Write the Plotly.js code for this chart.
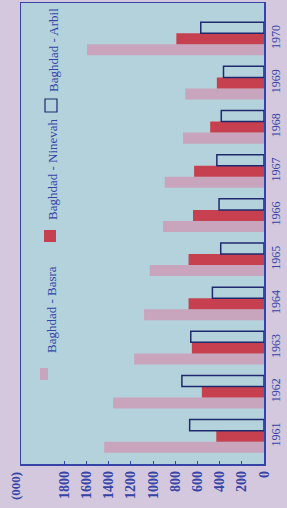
<!DOCTYPE html>
<html>
<head>
<meta charset="utf-8">
<script src="https://cdn.plot.ly/plotly-3.0.1.min.js"></script>
<style>html,body{margin:0;padding:0;background:#d3c8de;}#chart{width:287px;height:508px;}</style>
</head>
<body>
<div id="chart"></div>
<script>
// Data (thousands of passengers)
const years = ["1961","1962","1963","1964","1965","1966","1967","1968","1969","1970"];
const basra   = [1440, 1360, 1170, 1080, 1030, 910, 895, 730, 710, 1595];
const ninevah = [430, 560, 650, 680, 680, 640, 630, 485, 425, 790];
const arbil   = [670, 740, 660, 465, 390, 405, 425, 385, 365, 570];
const tickValues = [0, 200, 400, 600, 800, 1000, 1200, 1400, 1600, 1800];
const tickLabels = ["0", "200", "400", "600", "800", "1000", "1200", "1400", "1600", "1800"];
const seriesNames = ["Baghdad - Basra", "Baghdad - Ninevah", "Baghdad - Arbil"];
const unitLabel = "(000)";

const W = 287, H = 508;
const L = 21, R = 264, T = 3, B = 464;
const px = x => (x - L) / (R - L);
const py = y => (B - y) / (B - T);

const blue = "#3544a6";
const navy = "#1f2a6e";
const plotBg = "#b4d2dc";
const pink = "#c8a4bd";
const red = "#c7404f";

const traces = [
  {type: "bar", orientation: "h", y: years, x: basra, name: seriesNames[0],
   marker: {color: pink, line: {width: 0}}},
  {type: "bar", orientation: "h", y: years, x: ninevah, name: seriesNames[1],
   marker: {color: red, line: {width: 0}}},
  {type: "bar", orientation: "h", y: years, x: arbil, name: seriesNames[2],
   marker: {color: plotBg, line: {color: navy, width: 1.5}}}
];

const serif = "Liberation Serif, DejaVu Serif, serif";

const layout = {
  width: W, height: H,
  margin: {l: L, r: W - R, t: T, b: H - B, pad: 0},
  paper_bgcolor: "#d3c8de",
  plot_bgcolor: plotBg,
  showlegend: false,
  barmode: "group",
  bargap: 0.25,
  bargroupgap: 0,
  xaxis: {
    range: [2190, 0],
    tickvals: tickValues, ticktext: tickLabels,
    tickangle: -90,
    ticks: "inside", ticklen: 3, tickcolor: blue, tickwidth: 1,
    tickfont: {family: serif, size: 14, color: blue, weight: "bold"},
    showgrid: false, zeroline: false,
    showline: true, linecolor: blue, linewidth: 1.5, mirror: true
  },
  yaxis: {
    type: "category",
    range: [-0.63, 9.81],
    side: "right",
    tickangle: -90,
    ticks: "",
    tickfont: {family: serif, size: 12, color: blue},
    showgrid: false, zeroline: false,
    showline: true, linecolor: blue, linewidth: 1.5, mirror: true
  },
  shapes: [
    {type: "rect", xref: "paper", yref: "paper",
     x0: px(40), x1: px(48), y0: py(380), y1: py(368),
     fillcolor: pink, line: {width: 0}},
    {type: "rect", xref: "paper", yref: "paper",
     x0: px(44), x1: px(56), y0: py(242), y1: py(230),
     fillcolor: red, line: {width: 0}},
    {type: "rect", xref: "paper", yref: "paper",
     x0: px(45), x1: px(57), y0: py(112), y1: py(99),
     fillcolor: plotBg, line: {color: navy, width: 1.2}}
  ],
  annotations: [
    {xref: "paper", yref: "paper", x: px(51), y: py(310), text: seriesNames[0],
     textangle: -90, showarrow: false, xanchor: "center", yanchor: "middle",
     font: {family: serif, size: 13, color: blue}},
    {xref: "paper", yref: "paper", x: px(52), y: py(169), text: seriesNames[1],
     textangle: -90, showarrow: false, xanchor: "center", yanchor: "middle",
     font: {family: serif, size: 13, color: blue}},
    {xref: "paper", yref: "paper", x: px(54), y: py(50), text: seriesNames[2],
     textangle: -90, showarrow: false, xanchor: "center", yanchor: "middle",
     font: {family: serif, size: 13, color: blue}},
    {xref: "paper", yref: "paper", x: px(15), y: py(486), text: unitLabel,
     textangle: -90, showarrow: false, xanchor: "center", yanchor: "middle",
     font: {family: serif, size: 13, color: blue, weight: "bold"}}
  ]
};

Plotly.newPlot("chart", traces, layout, {displayModeBar: false, staticPlot: true});
</script>
</body>
</html>
